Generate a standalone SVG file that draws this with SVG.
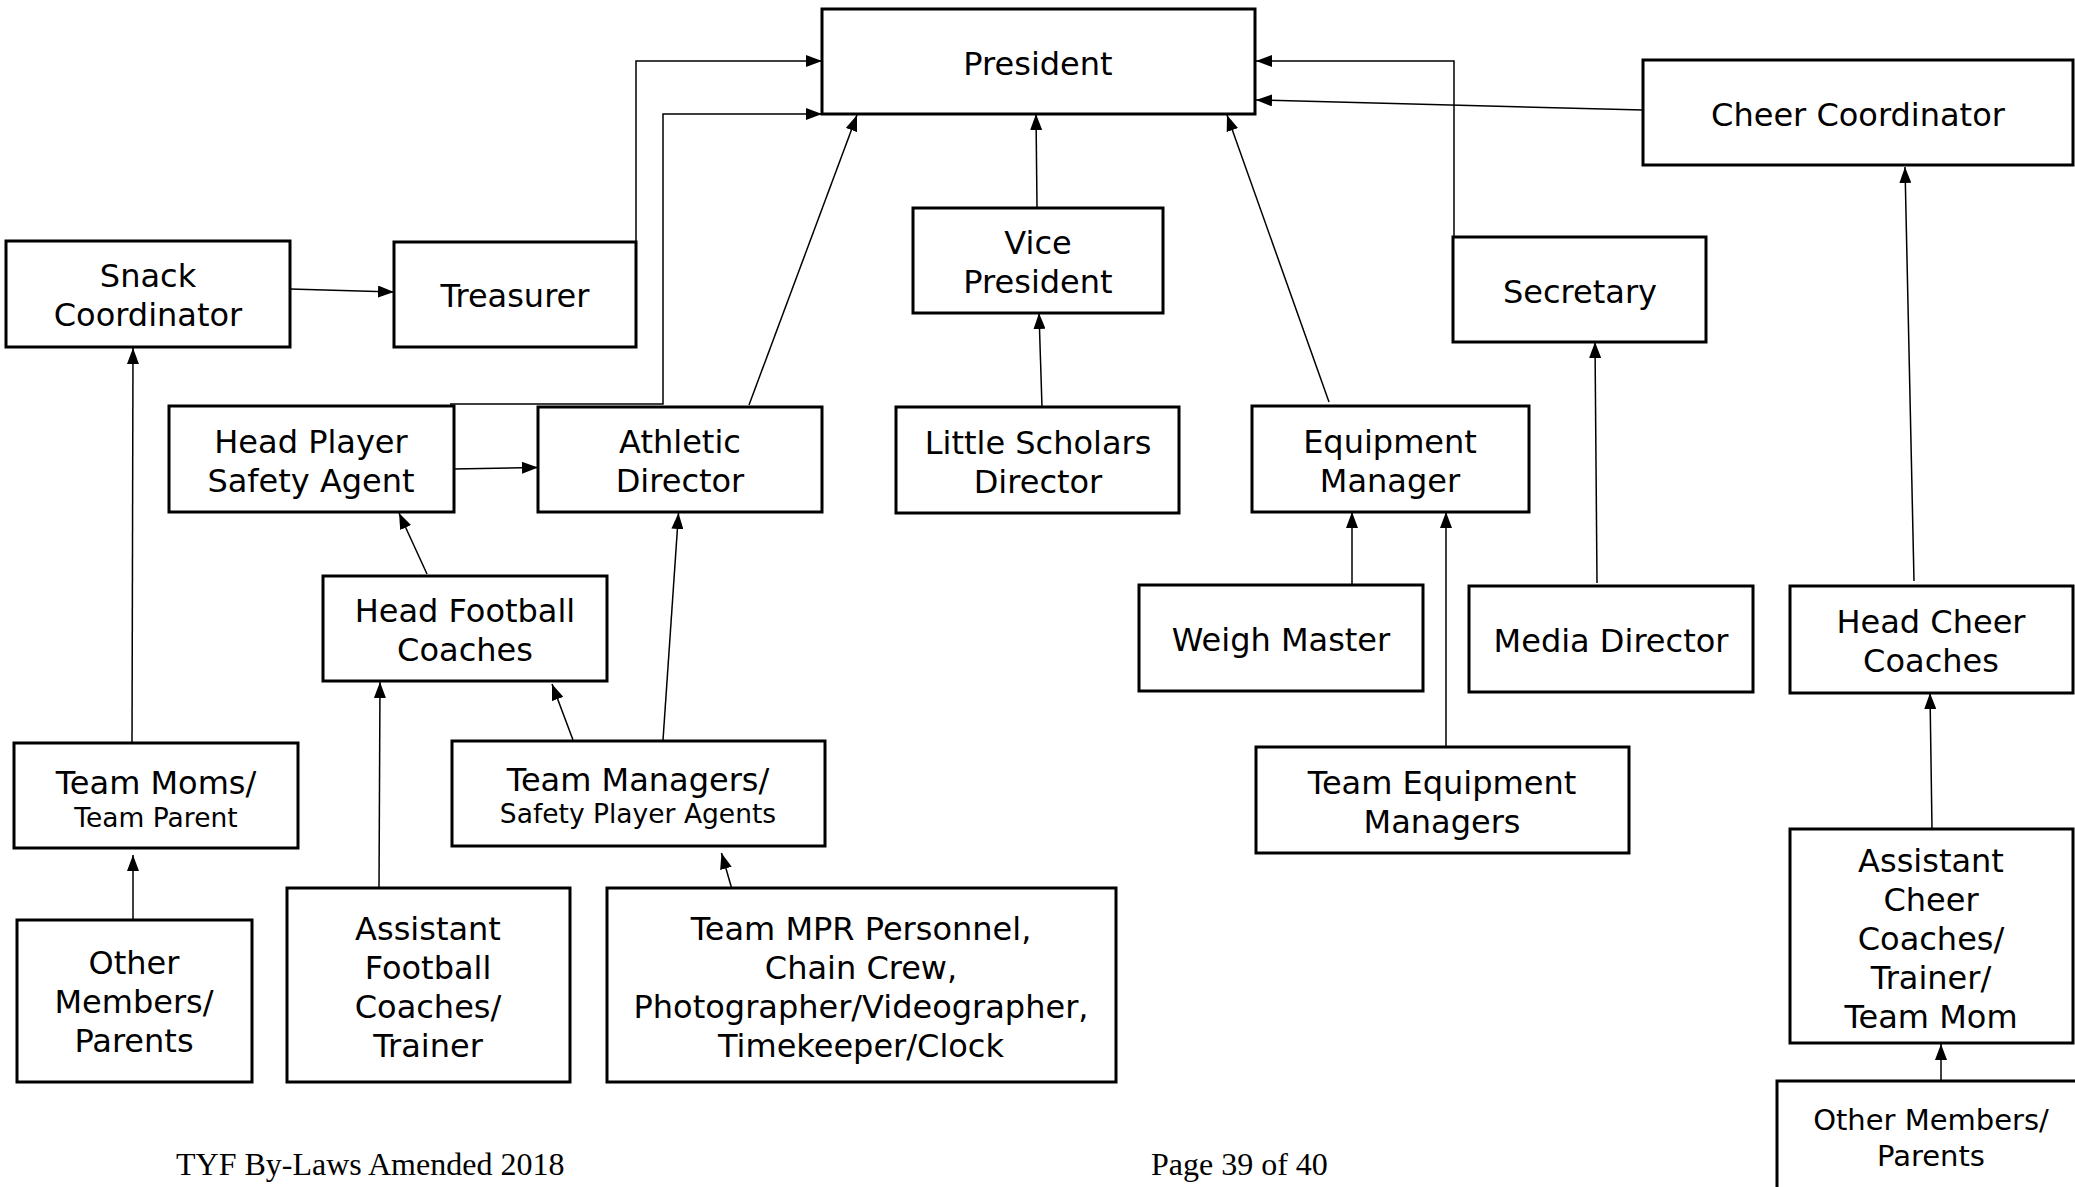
<svg xmlns="http://www.w3.org/2000/svg" width="2075" height="1187" viewBox="0 0 2075 1187">
<style>
.box{fill:#fff;stroke:#000;stroke-width:3}
.t{font-family:"DejaVu Sans",Verdana,sans-serif;font-size:32px;fill:#000;text-anchor:middle}
.s{font-size:26.5px}
.m{font-size:29px}
.c{fill:none;stroke:#000;stroke-width:1.5}
.f{font-family:"Liberation Serif","Times New Roman",serif;font-size:32px;fill:#000}
</style>
<defs>
<marker id="ah" viewBox="0 0 16 12" refX="16" refY="6" markerWidth="16" markerHeight="12" orient="auto" markerUnits="userSpaceOnUse"><path d="M0,0 L16,6 L0,12 z" fill="#000"/></marker>
</defs>
<rect width="2075" height="1187" fill="#fff"/>
<g id="connectors">
<path class="c" marker-end="url(#ah)" d="M290,289 L394,292"/>
<path class="c" marker-end="url(#ah)" d="M636,242 L636,61 L822,61"/>
<path class="c" marker-end="url(#ah)" d="M450,404 L663,404 L663,114 L822,114"/>
<path class="c" marker-end="url(#ah)" d="M749,405 L857,115"/>
<path class="c" marker-end="url(#ah)" d="M1037,207 L1036,114"/>
<path class="c" marker-end="url(#ah)" d="M1042,407 L1039,313"/>
<path class="c" marker-end="url(#ah)" d="M1329,402 L1227,115"/>
<path class="c" marker-end="url(#ah)" d="M1454,237 L1454,61 L1256,61"/>
<path class="c" marker-end="url(#ah)" d="M1643,110 L1256,100"/>
<path class="c" marker-end="url(#ah)" d="M453,469 L538,467.5"/>
<path class="c" marker-end="url(#ah)" d="M427,574 L399,513"/>
<path class="c" marker-end="url(#ah)" d="M663,740 L678.5,513"/>
<path class="c" marker-end="url(#ah)" d="M573,740 L552,684"/>
<path class="c" marker-end="url(#ah)" d="M132,743 L133,348"/>
<path class="c" marker-end="url(#ah)" d="M379,888 L380,682"/>
<path class="c" marker-end="url(#ah)" d="M133,919 L133,855"/>
<path class="c" marker-end="url(#ah)" d="M731.6,888 L721.5,853"/>
<path class="c" marker-end="url(#ah)" d="M1352,585 L1352,512"/>
<path class="c" marker-end="url(#ah)" d="M1446,747 L1446,512"/>
<path class="c" marker-end="url(#ah)" d="M1597,583 L1595,342"/>
<path class="c" marker-end="url(#ah)" d="M1914,581 L1905,167"/>
<path class="c" marker-end="url(#ah)" d="M1932,829 L1930,693"/>
<path class="c" marker-end="url(#ah)" d="M1941,1081 L1941,1044"/>
</g>
<g id="president"><rect class="box" x="822" y="9" width="433" height="105"/><text class="t" x="1038" y="75">President</text></g>
<g id="snack"><rect class="box" x="6" y="241" width="284" height="106"/><text class="t" x="148" y="287">Snack</text><text class="t" x="148" y="326">Coordinator</text></g>
<g id="treasurer"><rect class="box" x="394" y="242" width="242" height="105"/><text class="t" x="515" y="307">Treasurer</text></g>
<g id="vp"><rect class="box" x="913" y="208" width="250" height="105"/><text class="t" x="1038" y="254">Vice</text><text class="t" x="1038" y="293">President</text></g>
<g id="secretary"><rect class="box" x="1453" y="237" width="253" height="105"/><text class="t" x="1580" y="303">Secretary</text></g>
<g id="cheercoord"><rect class="box" x="1643" y="60" width="430" height="105"/><text class="t" x="1858" y="126">Cheer Coordinator</text></g>
<g id="hpsa"><rect class="box" x="169" y="406" width="285" height="106"/><text class="t" x="311" y="453">Head Player</text><text class="t" x="311" y="492">Safety Agent</text></g>
<g id="ad"><rect class="box" x="538" y="407" width="284" height="105"/><text class="t" x="680" y="453">Athletic</text><text class="t" x="680" y="492">Director</text></g>
<g id="lsd"><rect class="box" x="896" y="407" width="283" height="106"/><text class="t" x="1038" y="454">Little Scholars</text><text class="t" x="1038" y="493">Director</text></g>
<g id="em"><rect class="box" x="1252" y="406" width="277" height="106"/><text class="t" x="1390" y="453">Equipment</text><text class="t" x="1390" y="492">Manager</text></g>
<g id="hfc"><rect class="box" x="323" y="576" width="284" height="105"/><text class="t" x="465" y="622">Head Football</text><text class="t" x="465" y="661">Coaches</text></g>
<g id="weigh"><rect class="box" x="1139" y="585" width="284" height="106"/><text class="t" x="1281" y="651">Weigh Master</text></g>
<g id="media"><rect class="box" x="1469" y="586" width="284" height="106"/><text class="t" x="1611" y="652">Media Director</text></g>
<g id="headcheer"><rect class="box" x="1790" y="586" width="283" height="107"/><text class="t" x="1931" y="633">Head Cheer</text><text class="t" x="1931" y="672">Coaches</text></g>
<g id="teammoms"><rect class="box" x="14" y="743" width="284" height="105"/><text class="t" x="156" y="794">Team Moms/</text><text class="t s" x="156" y="827">Team Parent</text></g>
<g id="teammgr"><rect class="box" x="452" y="741" width="373" height="105"/><text class="t" x="638" y="791">Team Managers/</text><text class="t s" x="638" y="823">Safety Player Agents</text></g>
<g id="tem"><rect class="box" x="1256" y="747" width="373" height="106"/><text class="t" x="1442" y="794">Team Equipment</text><text class="t" x="1442" y="833">Managers</text></g>
<g id="othermembers"><rect class="box" x="17" y="920" width="235" height="162"/><text class="t" x="134" y="974">Other</text><text class="t" x="134" y="1013">Members/</text><text class="t" x="134" y="1052">Parents</text></g>
<g id="asstfootball"><rect class="box" x="287" y="888" width="283" height="194"/><text class="t" x="428" y="940">Assistant</text><text class="t" x="428" y="979">Football</text><text class="t" x="428" y="1018">Coaches/</text><text class="t" x="428" y="1057">Trainer</text></g>
<g id="mpr"><rect class="box" x="607" y="888" width="509" height="194"/><text class="t" x="861" y="940">Team MPR Personnel,</text><text class="t" x="861" y="979">Chain Crew,</text><text class="t" x="861" y="1018">Photographer/Videographer,</text><text class="t" x="861" y="1057">Timekeeper/Clock</text></g>
<g id="asstcheer"><rect class="box" x="1790" y="829" width="283" height="214"/><text class="t" x="1931" y="872">Assistant</text><text class="t" x="1931" y="911">Cheer</text><text class="t" x="1931" y="950">Coaches/</text><text class="t" x="1931" y="989">Trainer/</text><text class="t" x="1931" y="1028">Team Mom</text></g>
<g id="othercheer"><rect class="box" x="1777" y="1081" width="310" height="120"/><text class="t m" x="1931" y="1130">Other Members/</text><text class="t m" x="1931" y="1166">Parents</text></g>
<g id="footer"><text class="f" x="176" y="1175">TYF By-Laws Amended 2018</text><text class="f" x="1151" y="1175">Page 39 of 40</text></g>
</svg>
